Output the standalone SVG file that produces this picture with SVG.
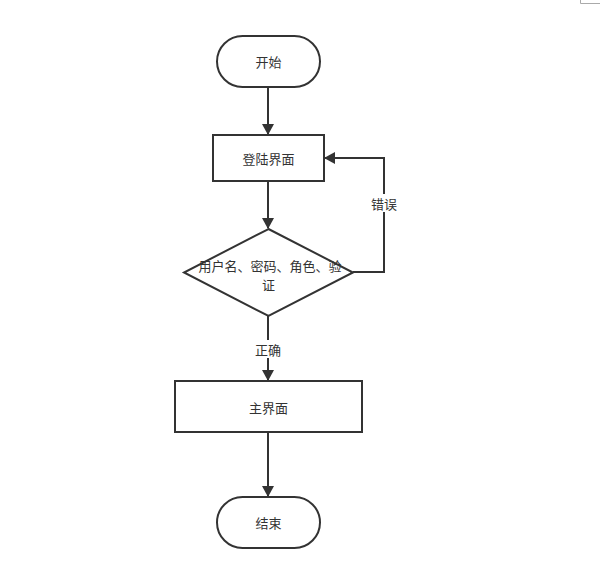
<svg xmlns="http://www.w3.org/2000/svg" width="600" height="583" viewBox="0 0 600 583">
<style>
.s{fill:#fff;stroke:#333;stroke-width:2}
.t{font-family:"Noto Sans CJK SC","Liberation Sans",sans-serif;font-size:13px;fill:#333;text-anchor:middle;dominant-baseline:central}
.c{fill:none;stroke:#333;stroke-width:2}
</style>
<defs>
<marker id="a" markerWidth="11" markerHeight="12" refX="10" refY="6" orient="auto" markerUnits="userSpaceOnUse" viewBox="0 0 11 12">
<path d="M0,0 L11,6 L0,12 Z" fill="#333"/>
</marker>
</defs>
<rect width="600" height="583" fill="#fff"/>
<path d="M580.5,0 V3.5 H600" fill="none" stroke="#aaa" stroke-width="1"/>
<g id="connectors">
<path class="c" d="M268,87 V134" marker-end="url(#a)"/>
<path class="c" d="M268,181 V228" marker-end="url(#a)"/>
<path class="c" d="M353,272 H384 V158 H325" marker-end="url(#a)"/>
<path class="c" d="M268,316 V380" marker-end="url(#a)"/>
<path class="c" d="M268,432 V496" marker-end="url(#a)"/>
<rect x="368" y="194" width="32" height="18" fill="#fff"/>
<text class="t" x="384" y="203">错误</text>
<rect x="252" y="340" width="32" height="18" fill="#fff"/>
<text class="t" x="268" y="349">正确</text>
</g>
<g id="start">
<rect class="s" x="217" y="36" width="103" height="51" rx="25.5"/>
<text class="t" x="268.5" y="61.5">开始</text>
</g>
<g id="login">
<rect class="s" x="213" y="135" width="111" height="46"/>
<text class="t" x="268.5" y="158">登陆界面</text>
</g>
<g id="verify">
<path class="s" d="M268.5,229 L353,272.5 L268.5,316 L184,272.5 Z"/>
<text class="t" x="270" y="265">用户名、密码、角色、验</text>
<text class="t" x="268.5" y="284">证</text>
</g>
<g id="main">
<rect class="s" x="175" y="381" width="187" height="51"/>
<text class="t" x="268.5" y="407">主界面</text>
</g>
<g id="end">
<rect class="s" x="217" y="497" width="103" height="51" rx="25.5"/>
<text class="t" x="268.5" y="522.5">结束</text>
</g>
</svg>
